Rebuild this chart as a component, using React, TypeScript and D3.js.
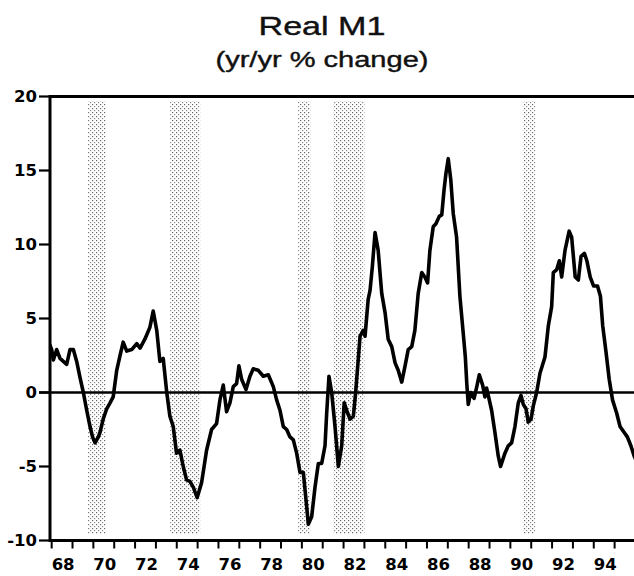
import React from "react";
import * as d3 from "d3";

const title = "Real M1";
const subtitle = "(yr/yr % change)";

// decimal years and yr/yr % change of real M1
const years = [
  1967.92, 1968.0, 1968.08, 1968.24, 1968.4, 1968.56, 1968.72, 1968.88, 1969.04, 1969.2,
  1969.36, 1969.52, 1969.68, 1969.84, 1969.96, 1970.08, 1970.24, 1970.32, 1970.47, 1970.64,
  1970.8, 1970.95, 1971.12, 1971.28, 1971.43, 1971.6, 1971.84, 1972.08, 1972.24, 1972.47,
  1972.71, 1972.87, 1973.04, 1973.19, 1973.35, 1973.52, 1973.67, 1973.83, 1973.99, 1974.15,
  1974.31, 1974.47, 1974.63, 1974.79, 1974.98, 1975.19, 1975.43, 1975.67, 1975.91, 1976.07,
  1976.23, 1976.39, 1976.55, 1976.71, 1976.87, 1976.98, 1977.11, 1977.32, 1977.51, 1977.67,
  1977.91, 1978.15, 1978.39, 1978.63, 1978.79, 1978.95, 1979.11, 1979.27, 1979.43, 1979.59,
  1979.75, 1979.91, 1980.07, 1980.23, 1980.31, 1980.47, 1980.63, 1980.79, 1980.95, 1981.11,
  1981.19, 1981.3, 1981.43, 1981.59, 1981.75, 1981.91, 1982.03, 1982.15, 1982.31, 1982.47,
  1982.58, 1982.68, 1982.79, 1982.94, 1983.03, 1983.18, 1983.27, 1983.38, 1983.51, 1983.66,
  1983.83, 1983.99, 1984.14, 1984.31, 1984.47, 1984.62, 1984.79, 1984.95, 1985.1, 1985.27,
  1985.42, 1985.58, 1985.75, 1985.9, 1986.03, 1986.14, 1986.3, 1986.43, 1986.59, 1986.71,
  1986.82, 1986.91, 1987.02, 1987.14, 1987.26, 1987.42, 1987.58, 1987.74, 1987.84, 1987.91,
  1987.98, 1988.1, 1988.26, 1988.39, 1988.51, 1988.67, 1988.78, 1988.86, 1988.94, 1989.1,
  1989.26, 1989.42, 1989.53, 1989.74, 1989.9, 1990.06, 1990.22, 1990.38, 1990.51, 1990.62,
  1990.75, 1990.86, 1990.99, 1991.1, 1991.26, 1991.42, 1991.66, 1991.82, 1991.98, 1992.06,
  1992.22, 1992.35, 1992.46, 1992.62, 1992.82, 1992.94, 1993.11, 1993.26, 1993.39, 1993.55,
  1993.67, 1993.83, 1993.99, 1994.18, 1994.32, 1994.43, 1994.59, 1994.74, 1994.9, 1995.1,
  1995.26, 1995.46, 1995.61, 1995.78, 1995.94, 1996.04,
];
const values = [
  3.2, 2.9, 2.2, 2.9, 2.3, 2.1, 1.9, 2.9, 2.9, 2.1,
  1.0, 0.0, -1.2, -2.3, -3.0, -3.4, -3.0, -2.7, -1.8, -1.1,
  -0.7, -0.3, 1.5, 2.5, 3.4, 2.8, 2.9, 3.3, 3.0, 3.6,
  4.4, 5.5, 4.2, 2.1, 2.3, 0.0, -1.6, -2.3, -4.1, -3.9,
  -5.0, -5.9, -6.0, -6.4, -7.1, -6.1, -3.9, -2.5, -2.1, -0.5,
  0.5, -1.3, -0.7, 0.4, 0.6, 1.8, 0.9, 0.2, 1.1, 1.6,
  1.5, 1.1, 1.2, 0.4, -0.5, -1.2, -2.3, -2.5, -3.0, -3.2,
  -4.1, -5.4, -5.4, -7.7, -8.9, -8.4, -6.4, -4.8, -4.8, -3.6,
  -1.4, 1.1, 0.0, -2.3, -5.0, -3.6, -0.7, -1.2, -1.8, -1.6,
  0.0, 1.8, 3.8, 4.2, 3.8, 6.3, 6.9, 8.5, 10.8, 9.6,
  6.7, 5.4, 3.6, 3.1, 2.0, 1.5, 0.7, 1.8, 2.9, 3.1,
  4.2, 6.7, 8.1, 7.8, 7.4, 9.6, 11.2, 11.4, 11.9, 12.0,
  13.7, 14.8, 15.8, 14.4, 12.1, 10.5, 6.5, 4.0, 2.4, 0.6,
  -0.8, 0.0, -0.4, 0.4, 1.2, 0.5, -0.3, 0.3, -0.2, -1.2,
  -2.7, -4.3, -5.0, -4.1, -3.6, -3.4, -2.3, -0.7, -0.2, -0.8,
  -1.1, -2.0, -1.8, -0.9, 0.0, 1.3, 2.4, 4.5, 5.8, 8.1,
  8.3, 8.9, 7.8, 9.6, 10.9, 10.5, 7.8, 7.6, 9.2, 9.4,
  8.9, 7.8, 7.2, 7.2, 6.5, 4.5, 2.7, 0.9, -0.5, -1.4,
  -2.3, -2.7, -3.0, -3.6, -4.3, -4.6,
];

// recession periods (shaded)
const recessionStarts = [1969.75, 1973.68, 1979.8, 1981.5, 1990.6];
const recessionEnds = [1970.6, 1975.12, 1980.4, 1983.0, 1991.2];

const yTicks = [-10, -5, 0, 5, 10, 15, 20];
const xTickYears = d3.range(1968, 1996);
const xLabelYears = [1968, 1970, 1972, 1974, 1976, 1978, 1980, 1982, 1984, 1986, 1988, 1990, 1992, 1994];
const xLabels = ["68", "70", "72", "74", "76", "78", "80", "82", "84", "86", "88", "90", "92", "94"];

const W = 634;
const H = 576;
const left = 50;
const top = 96.5;
const bottom = 540.5;

export default function App() {
  const x = d3.scaleLinear().domain([1967.92, 1996.0]).range([left, left + 28.08 * 20.85]);
  const y = d3.scaleLinear().domain([-10, 20]).range([bottom, top]);
  const line = d3
    .line<number>()
    .x((_, i) => x(years[i]))
    .y((d) => y(d))
    .curve(d3.curveLinear);
  const tickFont = "'DejaVu Sans', sans-serif";

  return (
    <div style={{ position: "absolute", left: 0, top: 0 }}>
      <svg width={W} height={H} style={{ display: "block", background: "#fff" }}>
        <defs>
          <pattern id="stipple" patternUnits="userSpaceOnUse" width={4} height={4}>
            <rect x={0} y={0} width={1.2} height={1.2} fill="#666" />
            <rect x={2} y={2} width={1.2} height={1.2} fill="#888" />
          </pattern>
          <clipPath id="plotClip">
            <rect x={left} y={top - 2} width={W - left} height={bottom - top + 4} />
          </clipPath>
        </defs>
        <rect x={0} y={0} width={W} height={H} fill="#fff" />

        <text
          x={322}
          y={35}
          textAnchor="middle"
          fontFamily="'Liberation Sans', Arial, sans-serif"
          fontSize={26.5}
          textLength={127}
          lengthAdjust="spacingAndGlyphs"
          fill="#111"
          stroke="#111"
          strokeWidth={0.4}
        >
          {title}
        </text>
        <text
          x={322}
          y={67}
          textAnchor="middle"
          fontFamily="'Liberation Sans', Arial, sans-serif"
          fontSize={22.5}
          textLength={213}
          lengthAdjust="spacingAndGlyphs"
          fill="#111"
          stroke="#111"
          strokeWidth={0.4}
        >
          {subtitle}
        </text>

        {recessionStarts.map((s, i) => (
          <rect
            key={"rec" + i}
            x={x(s)}
            y={101}
            width={x(recessionEnds[i]) - x(s)}
            height={534 - 101}
            fill="url(#stipple)"
          />
        ))}

        {/* zero line */}
        <line x1={39} x2={W} y1={y(0)} y2={y(0)} stroke="#000" strokeWidth={2.5} />

        <path
          d={line(values) || ""}
          fill="none"
          stroke="#000"
          strokeWidth={3.6}
          strokeLinejoin="round"
          strokeLinecap="round"
          clipPath="url(#plotClip)"
        />

        {/* frame */}
        <line x1={left} x2={W} y1={top} y2={top} stroke="#000" strokeWidth={3} />
        <line x1={left} x2={W} y1={bottom} y2={bottom} stroke="#000" strokeWidth={3} />
        <line x1={left} x2={left} y1={top - 1.5} y2={bottom + 1.5} stroke="#000" strokeWidth={3} />

        {yTicks.map((t) => (
          <g key={"yt" + t}>
            <line x1={39} x2={left} y1={y(t)} y2={y(t)} stroke="#000" strokeWidth={2.2} />
            <text
              x={37}
              y={y(t)}
              dy="0.36em"
              textAnchor="end"
              fontFamily={tickFont}
              fontWeight="bold"
              fontSize={16.5}
              fill="#000"
            >
              {t}
            </text>
          </g>
        ))}

        {xTickYears.map((yr) => (
          <line
            key={"xt" + yr}
            x1={x(yr)}
            x2={x(yr)}
            y1={bottom}
            y2={bottom + 8}
            stroke="#000"
            strokeWidth={2}
          />
        ))}
        {xLabelYears.map((yr, i) => (
          <text
            key={"xl" + yr}
            x={x(yr + 0.55)}
            y={570}
            textAnchor="middle"
            fontFamily={tickFont}
            fontWeight="bold"
            fontSize={16.5}
            fill="#000"
          >
            {xLabels[i]}
          </text>
        ))}
      </svg>
    </div>
  );
}
